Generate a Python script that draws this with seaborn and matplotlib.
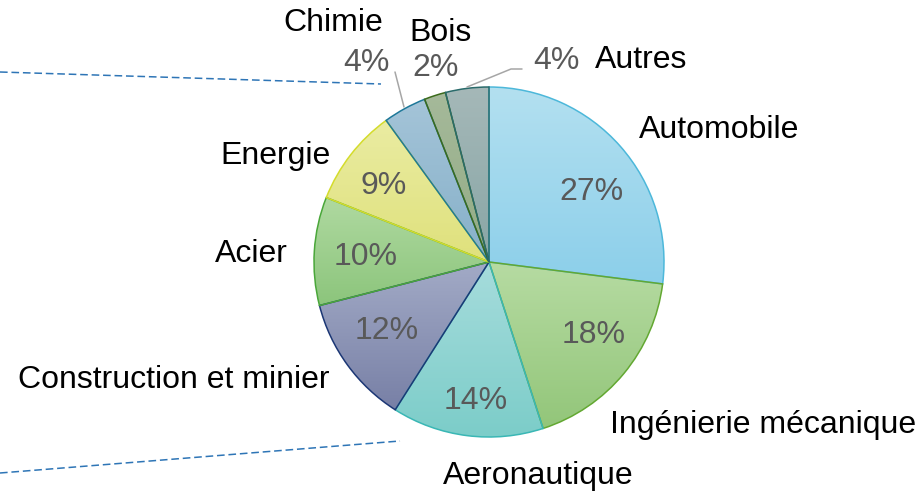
import numpy as np
import matplotlib
matplotlib.use("Agg")
import matplotlib.pyplot as plt
import seaborn as sns
from matplotlib.patches import PathPatch

# ---- data ----
categories = ["Automobile", "Ingénierie mécanique", "Aeronautique",
              "Construction et minier", "Acier", "Energie", "Chimie", "Bois", "Autres"]
shares = [27, 18, 14, 12, 10, 9, 4, 2, 4]

# ---- style ----
top_colors = ["#b3e0f0", "#b6dba2", "#a6dcdc", "#a2aac6", "#afd9a0", "#eaeca2", "#a4c4d8", "#a5b99a", "#a5b8b8"]
bot_colors = ["#8ccfea", "#93c67a", "#7ccdc9", "#7880a6", "#8cc57c", "#dfe17c", "#86b0c9", "#93ac85", "#88a6a6"]
edge_colors = ["#4db8da", "#63a832", "#3ab7b5", "#1c3775", "#4aa73a", "#d4dc2c", "#1e7899", "#3c6b1c", "#2a6b6b"]

sns.set_theme(style="white")
plt.rcParams["font.family"] = ["Liberation Sans", "DejaVu Sans"]

W, H = 922, 492
FS = 23
DY = 3  # vertical text offset (px) to match visual centering
fig = plt.figure(figsize=(W / 100, H / 100), dpi=100)
ax = fig.add_axes([0, 0, 1, 1])

def py(y):
    return H - y

cx, cy, R = 489, py(262), 175

wedges, _, autotexts = ax.pie(
    shares, startangle=90, counterclock=False, center=(cx, cy), radius=R,
    colors=top_colors, autopct=lambda p: f"{p:.0f}%", pctdistance=0.72,
    wedgeprops=dict(linewidth=0), textprops=dict(fontsize=FS, color="#595959"),
    frame=True)

# gradient fills clipped to wedges + edges
for w, tc, bc, ec in zip(wedges, top_colors, bot_colors, edge_colors):
    path = w.get_path()
    ext = path.get_extents()
    grad = np.array(sns.blend_palette([bc, tc], 64))[:, :3].reshape(64, 1, 3)
    im = ax.imshow(grad, extent=[ext.x0, ext.x1, ext.y0, ext.y1], origin="lower",
                   interpolation="bilinear", aspect="auto", zorder=2)
    im.set_clip_path(w)
    edge = PathPatch(path, facecolor="none", edgecolor=ec, linewidth=1.1, zorder=3)
    ax.add_patch(edge)

ax.set_xlim(0, W)
ax.set_ylim(0, H)
ax.set_aspect("equal")
ax.axis("off")

# percentage label positions (layout)
pct_pos = [(591, 189), (594, 332), (476, 398), (387, 328), (366, 254),
           (384, 183), (366, 60), (436, 65), (556, 58)]
for t, (x, y) in zip(autotexts, pct_pos):
    t.set_position((x, py(y + DY)))
    t.set_va("center")
    t.set_ha("center")
    t.set_zorder(5)

# category labels
label_pos = [(719, 127), (763, 422), (538, 473), (174, 377), (251, 251),
             (275, 153), (333, 20), (440, 30), (641, 57)]
for name, (x, y) in zip(categories, label_pos):
    ax.text(x, py(y + DY), name, fontsize=FS, color="black", ha="center", va="center", zorder=5)

# leader lines
ax.plot([395, 404], [py(72), py(107)], color="#a6a6a6", lw=1.1, zorder=4)
ax.plot([467, 511, 522], [py(87), py(69), py(69)], color="#a6a6a6", lw=1.1, zorder=4)

# dashed callout lines
ax.plot([0, 381], [py(72), py(84)], color="#2e75b6", lw=1.1, ls=(0, (5, 2.5)), zorder=1)
ax.plot([0, 400], [py(473), py(441)], color="#2e75b6", lw=1.1, ls=(0, (5, 2.5)), zorder=1)

fig.savefig("out.png", dpi=100)
